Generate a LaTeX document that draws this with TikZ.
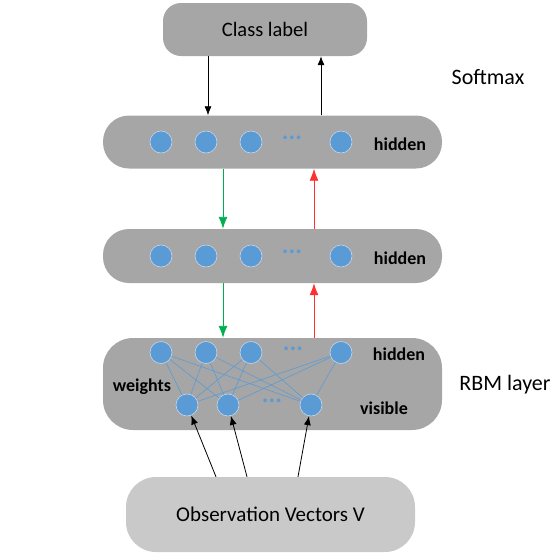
\documentclass[tikz,border=0pt]{standalone}
\usepackage{fontspec}
\setmainfont{Carlito}
\usetikzlibrary{arrows.meta}
\definecolor{boxgray}{HTML}{A6A6A6}
\definecolor{obsgray}{HTML}{C9C9C9}
\definecolor{unitblue}{HTML}{5B9BD5}
\definecolor{unitrim}{HTML}{C5D7EA}
\definecolor{upred}{HTML}{FF3030}
\definecolor{downgreen}{HTML}{00B050}
\tikzset{
  layerbox/.style={draw=none, fill=boxgray, rounded corners=26, minimum width=339, minimum height=54},
  unit/.style={circle, fill=unitblue, draw=unitrim, line width=0.6pt, minimum size=22, inner sep=0pt},
  dots/.style={text=unitblue, font=\fontsize{25}{25}\selectfont\bfseries},
  tag/.style={font=\fontsize{18}{18}\selectfont\bfseries},
  side/.style={font=\fontsize{22}{22}\selectfont},
  wline/.style={draw=unitblue, line width=0.6pt},
  barr/.style={-{Latex[length=9pt,width=7pt]}, line width=0.8pt, black},
  garr/.style={-{Latex[length=12pt,width=9pt]}, line width=0.9pt, color=downgreen},
  rarr/.style={-{Latex[length=12pt,width=9pt]}, line width=0.9pt, color=upred}
}
\begin{document}
\begin{tikzpicture}[x=1pt,y=-1pt]
  \useasboundingbox (0,0) rectangle (557,555);

  % Class label and softmax
  \node[fill=boxgray, rounded corners=18, minimum width=204, minimum height=53,
        font=\fontsize{20.5}{20.5}\selectfont] (cls) at (265,29.5) {Class label};
  \node[side] (soft) at (488,77) {Softmax};

  % First hidden layer
  \node[layerbox, minimum height=53] (h1) at (272.5,142) {};
  \foreach \x [count=\i] in {161,206,251,341}
    \node[unit] (a\i) at (\x,142) {};
  \node[dots] (adots) at (292,138) {...};
  \node[tag] (atag) at (400,144) {hidden};

  % Second hidden layer
  \node[layerbox] (h2) at (272.5,256) {};
  \foreach \x [count=\i] in {161,206,251,341}
    \node[unit] (b\i) at (\x,256) {};
  \node[dots] (bdots) at (292,252) {...};
  \node[tag] (btag) at (400,258) {hidden};

  % RBM layer
  \node[layerbox, rounded corners=30, minimum height=92] (rbm) at (272.5,384) {};
  \node[side] (rbmtag) at (505,385) {RBM layer};
  \foreach \x [count=\i] in {161,206,251,341}
    \node[unit] (t\i) at (\x,352.5) {};
  \foreach \x [count=\i] in {187,228,311}
    \node[unit] (v\i) at (\x,405) {};
  \node[dots] (tdots) at (293,349) {...};
  \node[dots] (vdots) at (272,401) {...};
  \node[tag] (ttag) at (399,354) {hidden};
  \node[tag] (wtag) at (142,387) {weights};
  \node[tag] (vtag) at (384,408) {visible};
  \foreach \t in {t1,t2,t3,t4}
    \foreach \v in {v1,v2,v3}
      \draw[wline] (\t) -- (\v);

  % Observations
  \node[fill=obsgray, rounded corners=30, minimum width=289, minimum height=75,
        font=\fontsize{21}{21}\selectfont] (obs) at (270.5,514.5) {Observation Vectors V};

  % Connectors
  \draw[barr] (cls.south -| 208,0) -- (h1.north -| 208,0);
  \draw[barr] (h1.north -| 321,0) -- (cls.south -| 321,0);
  \draw[garr] (h1.south -| 223,0) -- (h2.north -| 223,0);
  \draw[rarr] (h2.north -| 314,0) -- (h1.south -| 314,0);
  \draw[garr] (h2.south -| 223,0) -- (rbm.north -| 223,0);
  \draw[rarr] (rbm.north -| 314,0) -- (h2.south -| 314,0);
  \draw[barr] (obs.north -| 216,0) -- (v1);
  \draw[barr] (obs.north -| 247,0) -- (v2);
  \draw[barr] (obs.north -| 298,0) -- (v3);
\end{tikzpicture}
\end{document}
